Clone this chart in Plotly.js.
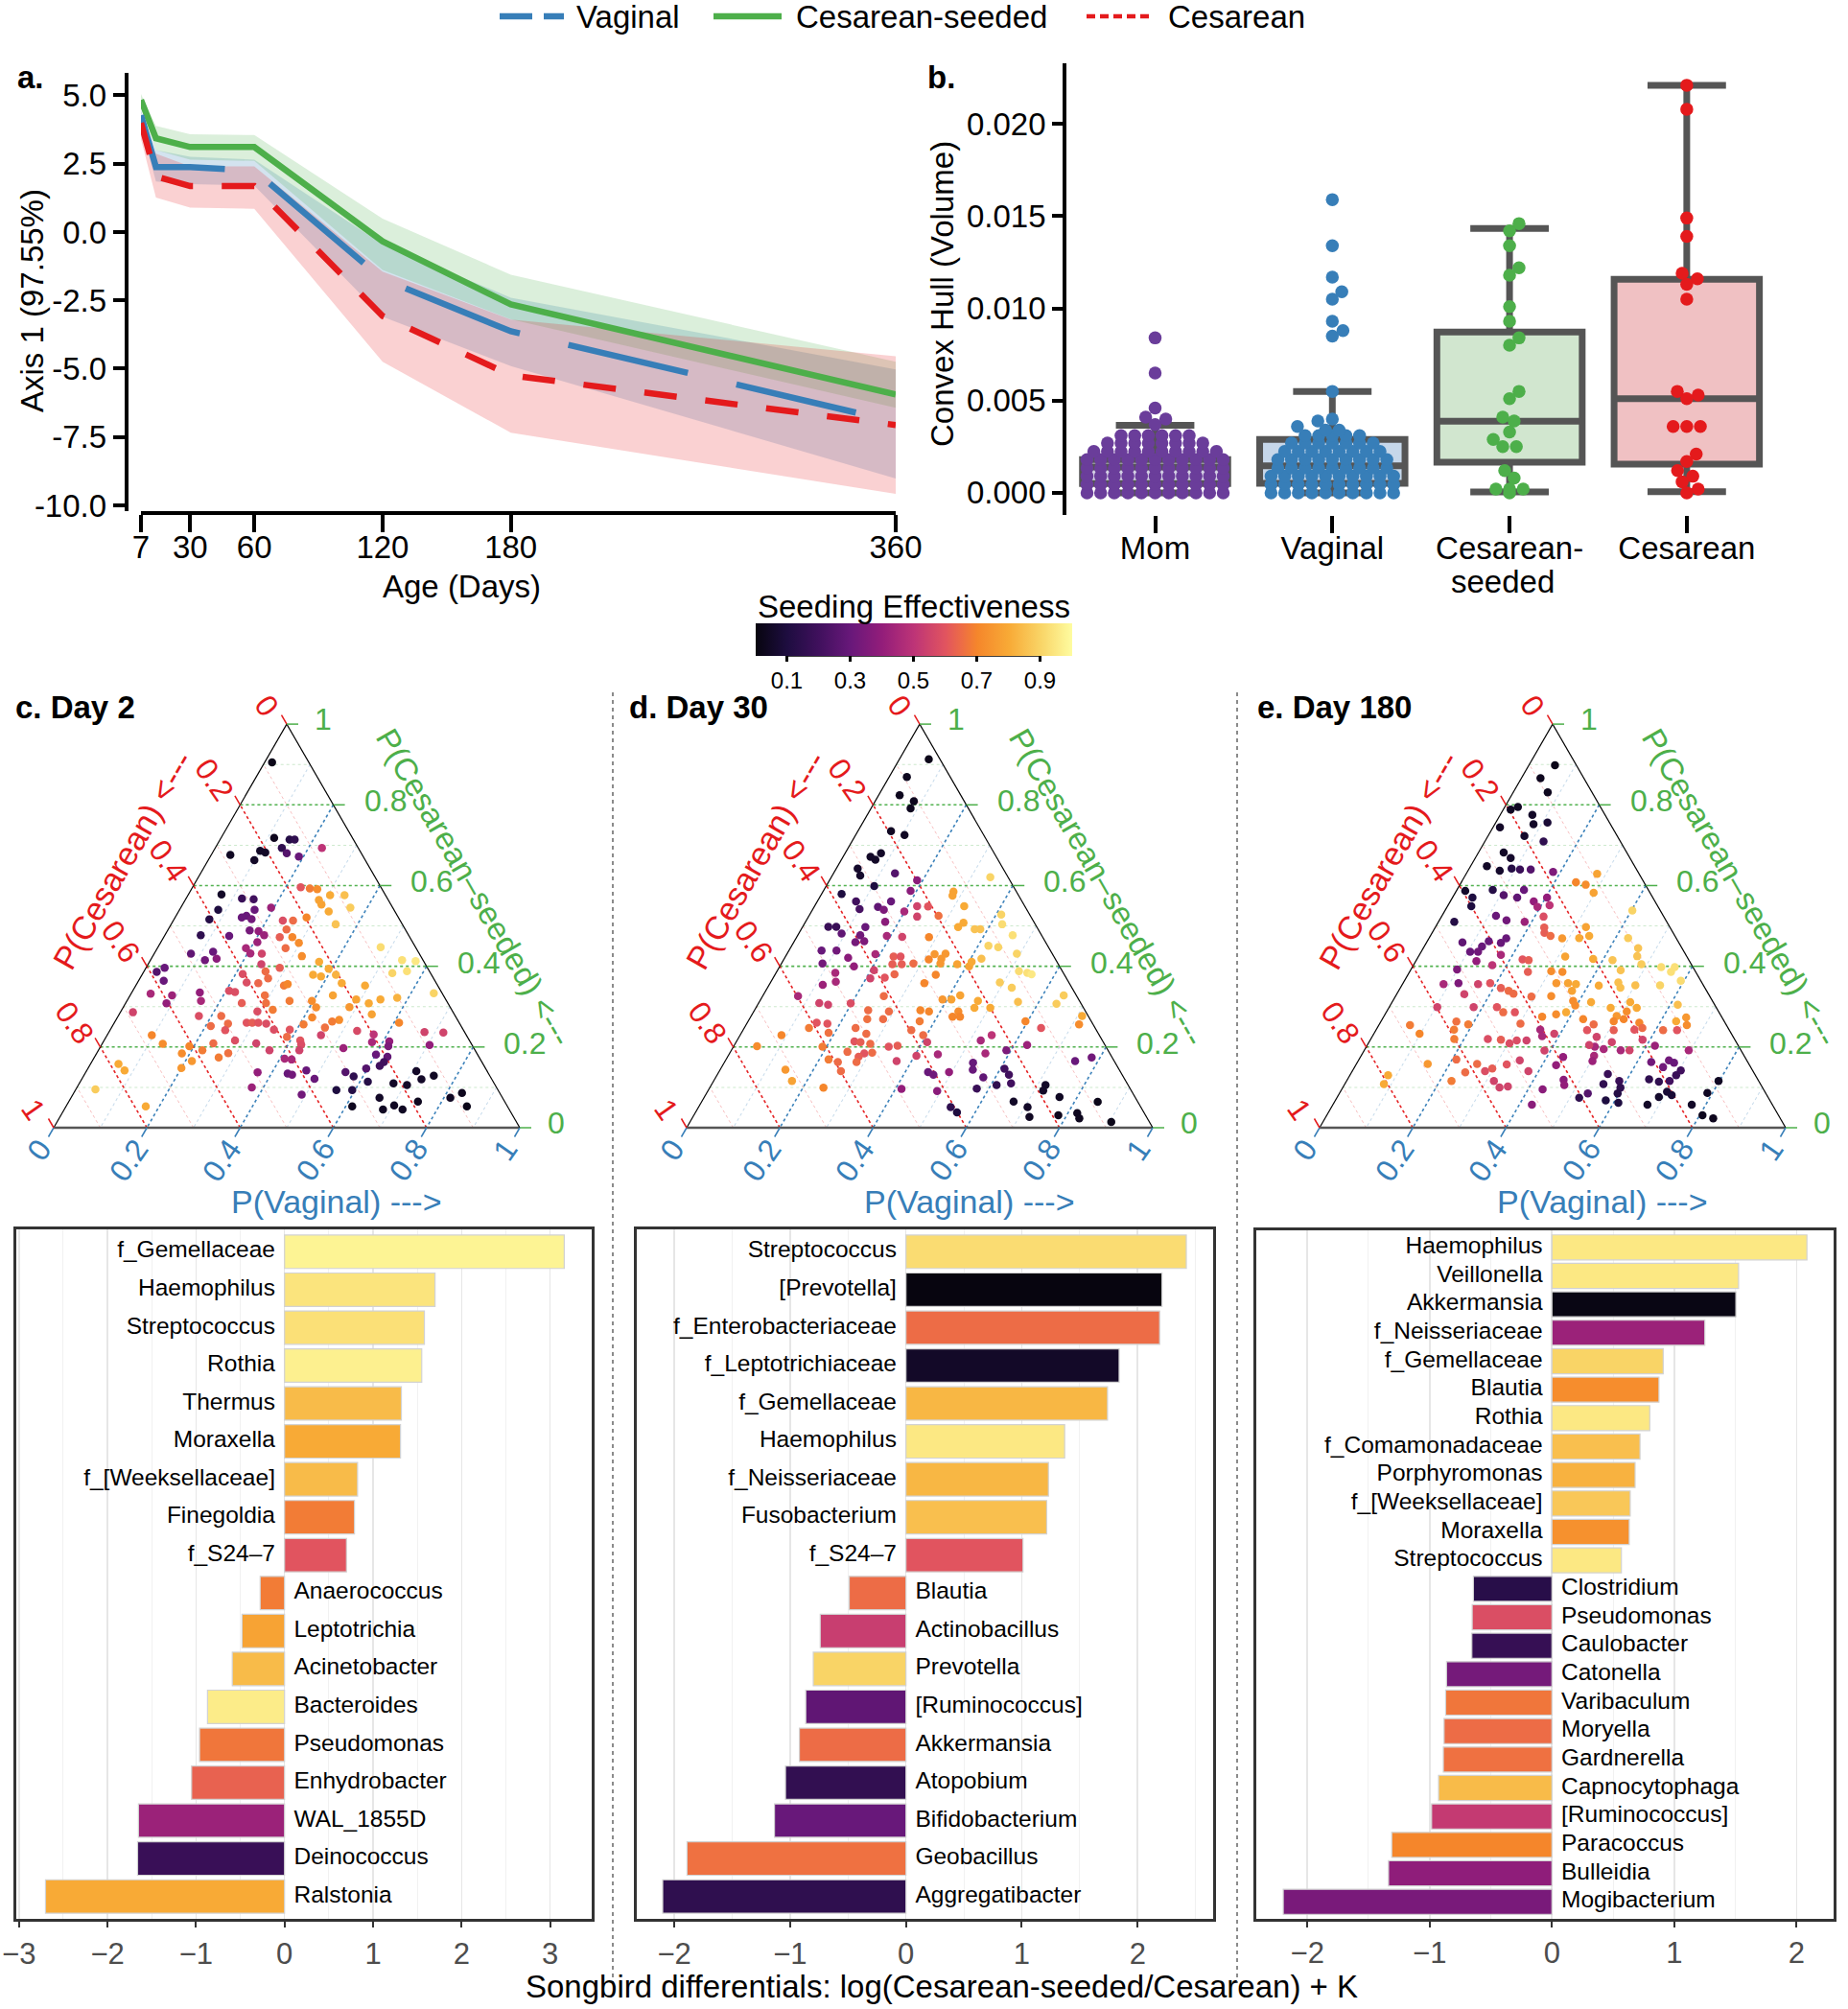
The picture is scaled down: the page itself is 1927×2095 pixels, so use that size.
<!DOCTYPE html>
<html><head><meta charset="utf-8">
<script src="https://cdn.plot.ly/plotly-3.0.1.min.js"></script>
<style>html,body{margin:0;padding:0;background:#fff;}#chart{width:1927px;height:2095px;}</style>
</head><body><div id="chart"></div>
<script>
// ---------------- DATA ----------------
// Panel a: PCoA axis 1 trajectories
const ageDays = [7, 14, 30, 60, 120, 180, 360];
const ageTickDays = [7, 30, 60, 120, 180, 360];
const axisTickVals = [5, 2.5, 0, -2.5, -5, -7.5, -10];
const axisTickText = ['5.0', '2.5', '0.0', '-2.5', '-5.0', '-7.5', '-10.0'];
const vaginalMean  = [4.27, 2.38, 2.38, 2.25, -1.72, -3.63, -6.95];
const vaginalUpper = [4.45, 3.00, 2.75, 2.65, -0.45, -2.40, -5.03];
const vaginalLower = [3.90, 1.85, 1.75, 1.70, -3.10, -4.90, -9.02];
const seededMean   = [4.83, 3.43, 3.11, 3.11, -0.34, -2.65, -5.94];
const seededUpper  = [5.05, 3.88, 3.58, 3.55, 0.49, -1.56, -4.75];
const seededLower  = [4.60, 3.00, 2.65, 2.60, -1.39, -3.19, -6.43];
const cesareanMean  = [3.99, 2.03, 1.68, 1.68, -3.07, -5.24, -7.06];
const cesareanUpper = [4.05, 2.87, 2.40, 2.40, -1.45, -3.20, -4.54];
const cesareanLower = [3.40, 1.26, 0.89, 0.85, -4.75, -7.34, -9.58];
const legendNames = ['Vaginal', 'Cesarean-seeded', 'Cesarean'];

// Panel b: convex hull volumes
const hullGroups = ['Mom', 'Vaginal', 'Cesarean-seeded', 'Cesarean'];
const hullTickText = ['Mom', 'Vaginal', 'Cesarean-', 'Cesarean'];
const hullTickVals = [0, 0.005, 0.010, 0.015, 0.020];
const momHull = [
  0.0000,0.0000,0.0000,0.0000,0.0000,0.0000,0.0000,0.0000,0.0000,0.0000,0.0000,
  0.00045,0.00045,0.00045,0.00045,0.00045,0.00045,0.00045,0.00045,0.00045,0.00045,0.00045,
  0.0009,0.0009,0.0009,0.0009,0.0009,0.0009,0.0009,0.0009,0.0009,0.0009,0.0009,
  0.00135,0.00135,0.00135,0.00135,0.00135,0.00135,0.00135,0.00135,0.00135,0.00135,0.00135,
  0.0018,0.0018,0.0018,0.0018,0.0018,0.0018,0.0018,0.0018,0.0018,0.0018,0.0018,
  0.00225,0.00225,0.00225,0.00225,0.00225,0.00225,0.00225,0.00225,0.00225,0.00225,
  0.0027,0.0027,0.0027,0.0027,0.0027,0.0027,0.0027,0.0027,
  0.0031,0.0031,0.0031,0.0031,0.0031,0.0031,
  0.0037,0.0040,0.0041,0.0046,0.0065,0.0084];
const vaginalHull = [
  0.0000,0.0000,0.0000,0.0000,0.0000,0.0000,0.0000,0.0000,0.0000,0.0000,
  0.00045,0.00045,0.00045,0.00045,0.00045,0.00045,0.00045,0.00045,0.00045,0.00045,
  0.0009,0.0009,0.0009,0.0009,0.0009,0.0009,0.0009,0.0009,0.0009,0.0009,
  0.00135,0.00135,0.00135,0.00135,0.00135,0.00135,0.00135,0.00135,0.00135,
  0.0018,0.0018,0.0018,0.0018,0.0018,0.0018,0.0018,0.0018,0.0018,
  0.00225,0.00225,0.00225,0.00225,0.00225,0.00225,0.00225,0.00225,
  0.0027,0.0027,0.0027,0.0027,0.0027,0.0027,0.0027,
  0.0031,0.0031,0.0031,0.0031,0.0031,
  0.0034,0.0034,0.0036,0.0039,0.0040,0.0055,
  0.0085,0.0088,0.0093,0.0105,0.0109,0.0117,0.0134,0.0159];
const seededHull = [0.0146,0.0142,0.0134,0.0122,0.0118,0.0101,0.0093,0.0084,0.0080,0.0055,0.0051,0.0041,
  0.0039,0.0033,0.0029,0.0025,0.0025,0.0012,0.0008,0.0002,0.0002,0.0002,0.0000];
const cesareanHull = [0.0221,0.0208,0.0149,0.0139,0.0119,0.0116,0.0113,0.0105,0.0055,0.0053,0.0051,
  0.0036,0.0036,0.0036,0.0021,0.0017,0.0012,0.0009,0.0006,0.0002,0.0000];
const hullQ1 = [0.0005, 0.00052, 0.00166, 0.00156];
const hullMedian = [0.0014, 0.00146, 0.00388, 0.0051];
const hullQ3 = [0.0018, 0.0029, 0.00872, 0.01158];
const hullLowerFence = [0.0, 0.0, 0.00005, 0.00006];
const hullUpperFence = [0.00366, 0.0055, 0.01434, 0.0221];

// Colour bar
const effectTicks = [0.1, 0.3, 0.5, 0.7, 0.9];
const ternTickVals = [0, 0.2, 0.4, 0.6, 0.8, 1];
const ternTickText = ['0', '0.2', '0.4', '0.6', '0.8', '1'];

// Panel c: Day 2 ternary  (P(Cesarean-seeded), P(Vaginal), seeding effectiveness)
const day2Seeded = [.905,.718,.714,.714,.693,.676,.686,.682,.693,.680,
 .663,.672,.596,.593,.591,.576,.576,.545,.564,.553,
 .536,.504,.578,.568,.566,.540,.540,.545,.525,.521,
 .517,.516,.513,.513,.521,.489,.487,.477,.491,.472,
 .472,.458,.477,.475,.460,.445,.445,.432,.431,.425,
 .431,.436,.415,.419,.396,.387,.411,.394,.379,.379,
 .375,.358,.352,.447,.415,.413,.388,.383,.333,.322,
 .318,.308,.318,.328,.299,.281,.314,.298,.273,.256,
 .267,.263,.248,.260,.240,.243,.225,.216,.206,.237,
 .236,.231,.212,.214,.202,.205,.197,.181,.176,.163,
 .153,.147,.138,.127,.114,.140,.120,.129,.110,.106,
 .093,.093,.074,.053,.045,.055,.045,.065,.074,.086,
 .053,.082,.100,.137,.134,.131,.142,.121,.171,.169,
 .192,.192,.209,.260,.260,.260,.258,.243,.258,.242,
 .252,.277,.277,.216,.209,.192,.202,.184,.165,.148,
 .185,.174,.229,.208,.158,.142,.095,.053,.286,.332,
 .308,.328,.386,.364,.396,.335,.314,.339,.336,.309,
 .288,.309,.328,.292,.352,.356,.314,.358,.370,.360,
 .381,.405,.229];
const day2Vaginal = [.016,.114,.149,.160,.229,.041,.100,.113,.143,.160,
 .099,.190,.232,.253,.270,.305,.336,.364,.287,.298,
 .322,.353,.071,.120,.146,.083,.161,.194,.151,.143,
 .166,.076,.235,.257,.282,.176,.196,.213,.254,.249,
 .276,.297,.077,.139,.207,.190,.275,.206,.231,.320,
 .079,.124,.117,.140,.287,.261,.364,.393,.416,.367,
 .386,.439,.492,.478,.540,.570,.564,.535,.649,.576,
 .542,.522,.490,.435,.485,.542,.397,.414,.418,.408,
 .479,.466,.458,.611,.531,.385,.388,.421,.428,.677,
 .718,.571,.577,.613,.617,.704,.523,.601,.628,.627,
 .623,.597,.557,.580,.617,.708,.729,.751,.674,.705,
 .560,.594,.662,.614,.684,.703,.726,.749,.814,.833,
 .860,.491,.375,.369,.435,.446,.471,.499,.410,.426,
 .367,.431,.330,.284,.296,.309,.327,.351,.245,.247,
 .211,.173,.221,.281,.238,.223,.190,.183,.214,.200,
 .282,.267,.096,.130,.060,.081,.042,.171,.027,.042,
 .088,.090,.028,.054,.040,.146,.159,.207,.221,.249,
 .293,.301,.289,.324,.318,.324,.349,.260,.275,.234,
 .215,.243,.459];
const day2Effect = [.02,.03,.12,.15,.50,.04,.05,.05,.15,.25,
 .05,.30,.60,.68,.72,.80,.85,.88,.78,.78,
 .80,.86,.05,.18,.20,.10,.30,.42,.30,.30,
 .32,.12,.58,.65,.70,.33,.40,.42,.65,.62,
 .70,.72,.15,.30,.42,.45,.65,.45,.55,.72,
 .28,.30,.32,.38,.62,.65,.80,.80,.82,.80,
 .80,.80,.80,.92,.93,.95,.93,.90,.90,.82,
 .80,.80,.78,.78,.75,.78,.72,.72,.70,.68,
 .72,.68,.66,.70,.57,.60,.65,.60,.58,.55,
 .55,.50,.45,.40,.35,.40,.42,.30,.28,.20,
 .20,.25,.25,.15,.12,.05,.05,.04,.05,.05,
 .10,.12,.05,.03,.04,.04,.04,.03,.04,.03,
 .02,.32,.42,.40,.30,.32,.30,.30,.45,.45,
 .55,.55,.55,.60,.62,.60,.58,.58,.65,.60,
 .65,.58,.65,.58,.65,.68,.70,.72,.75,.75,
 .66,.68,.70,.72,.80,.80,.88,.80,.55,.45,
 .40,.42,.25,.30,.30,.40,.45,.58,.58,.62,
 .58,.66,.66,.68,.68,.70,.68,.64,.65,.58,
 .58,.55,.55];

// Panel d: Day 30 ternary
const day30Seeded = [.913,.869,.824,.809,.791,.735,.725,.671,.680,.664,
 .642,.625,.630,.613,.599,.587,.579,.561,.542,.561,
 .547,.540,.549,.548,.536,.523,.525,.510,.498,.498,
 .481,.497,.477,.460,.462,.475,.473,.472,.439,.439,
 .421,.407,.400,.430,.424,.424,.405,.405,.407,.390,
 .370,.372,.380,.384,.362,.354,.326,.309,.305,.308,
 .326,.358,.379,.417,.430,.419,.431,.407,.405,.400,
 .411,.419,.492,.492,.497,.508,.549,.585,.575,.621,
 .528,.504,.477,.451,.447,.431,.388,.384,.380,.360,
 .347,.312,.328,.307,.277,.256,.264,.247,.297,.297,
 .314,.318,.328,.318,.288,.275,.275,.288,.291,.264,
 .242,.229,.212,.288,.269,.291,.269,.233,.247,.214,
 .212,.208,.186,.184,.176,.163,.188,.163,.140,.169,
 .201,.235,.247,.260,.258,.229,.202,.144,.116,.099,
 .096,.091,.201,.203,.165,.178,.182,.138,.138,.131,
 .051,.038,.161,.144,.125,.216,.229,.184,.192,.205,
 .146,.131,.110,.106,.097,.165,.174,.106,.092,.076,
 .065,.051,.027,.031,.036,.023,.064,.014];
const day30Vaginal = [.063,.038,.045,.083,.085,.071,.105,.059,.077,.073,
 .046,.060,.132,.188,.103,.187,.043,.083,.100,.158,
 .137,.153,.220,.244,.199,.233,.278,.171,.055,.072,
 .092,.135,.134,.132,.150,.192,.226,.284,.070,.102,
 .136,.088,.159,.190,.232,.247,.239,.259,.283,.207,
 .209,.239,.256,.127,.139,.115,.076,.130,.151,.198,
 .260,.331,.345,.311,.317,.337,.340,.341,.378,.406,
 .406,.423,.372,.384,.334,.340,.321,.280,.283,.341,
 .411,.425,.461,.422,.445,.493,.519,.539,.550,.492,
 .524,.555,.645,.640,.710,.714,.595,.637,.503,.469,
 .468,.409,.423,.390,.439,.433,.449,.376,.356,.368,
 .361,.393,.410,.290,.287,.244,.253,.269,.239,.253,
 .267,.290,.305,.289,.281,.283,.251,.243,.261,.220,
 .191,.187,.139,.149,.173,.089,.050,.140,.168,.244,
 .413,.492,.333,.351,.368,.404,.448,.494,.449,.464,
 .541,.561,.534,.542,.574,.523,.540,.549,.590,.628,
 .609,.626,.641,.612,.574,.751,.782,.717,.719,.762,
 .669,.706,.722,.782,.820,.831,.850,.904];
const day30Effect = [.02,.03,.03,.03,.03,.04,.04,.05,.05,.05,
 .06,.06,.25,.38,.10,.38,.10,.20,.22,.30,
 .28,.35,.55,.60,.45,.55,.66,.38,.18,.18,
 .28,.30,.32,.33,.35,.45,.55,.70,.30,.32,
 .38,.32,.40,.45,.62,.60,.62,.62,.65,.55,
 .55,.60,.64,.45,.45,.42,.45,.55,.55,.58,
 .65,.70,.70,.70,.75,.75,.75,.75,.78,.78,
 .80,.85,.86,.86,.80,.80,.80,.78,.78,.90,
 .90,.92,.93,.90,.90,.90,.92,.93,.95,.88,
 .88,.85,.88,.88,.80,.72,.70,.60,.80,.80,
 .80,.78,.78,.75,.72,.70,.70,.70,.70,.68,
 .65,.65,.55,.65,.65,.65,.66,.65,.65,.60,
 .62,.65,.65,.60,.62,.65,.65,.65,.65,.68,
 .68,.66,.68,.60,.60,.70,.72,.75,.78,.70,
 .40,.38,.60,.62,.55,.55,.45,.40,.30,.32,
 .15,.10,.30,.30,.28,.45,.50,.45,.35,.42,
 .20,.20,.20,.15,.18,.30,.32,.05,.05,.04,
 .05,.05,.04,.03,.03,.03,.02,.02];

// Panel e: Day 180 ternary
const day180Seeded = [.898,.866,.831,.788,.795,.775,.756,.752,.744,.723,
 .709,.682,.668,.648,.637,.642,.640,.640,.634,.587,
 .570,.549,.589,.576,.570,.589,.561,.547,.570,.551,
 .510,.525,.514,.510,.523,.496,.483,.475,.469,.608,
 .602,.629,.582,.538,.497,.475,.470,.470,.445,.425,
 .405,.415,.390,.398,.398,.386,.364,.353,.305,.353,
 .360,.347,.352,.418,.424,.388,.386,.358,.358,.356,
 .339,.326,.314,.303,.311,.297,.277,.311,.297,.288,
 .269,.264,.260,.243,.247,.264,.273,.254,.242,.242,
 .192,.203,.218,.192,.192,.212,.242,.195,.201,.225,
 .205,.242,.269,.256,.178,.165,.163,.167,.150,.161,
 .142,.130,.120,.114,.116,.089,.081,.076,.057,.057,
 .031,.023,.086,.116,.133,.108,.116,.099,.085,.062,
 .068,.085,.074,.175,.155,.119,.106,.095,.057,.140,
 .167,.102,.100,.116,.157,.147,.140,.158,.137,.169,
 .116,.158,.130,.108,.254,.233,.220,.243,.263,.256,
 .220,.218,.209,.216,.216,.243,.227,.233,.191,.286,
 .258,.299,.286,.299,.299,.356,.331,.356,.358,.392,
 .413,.403,.428,.436,.436,.449,.462,.458,.459,.469,
 .358,.346,.339,.332,.417,.415,.386,.325,.286,.281,
 .275];
const day180Vaginal = [.056,.041,.074,.016,.028,.069,.111,.083,.015,.078,
 .126,.054,.076,.035,.068,.091,.110,.133,.184,.019,
 .043,.051,.077,.107,.139,.144,.179,.194,.203,.218,
 .034,.116,.144,.185,.219,.234,.241,.258,.286,.246,
 .270,.281,.297,.402,.323,.341,.322,.427,.461,.469,
 .488,.421,.451,.534,.563,.561,.593,.554,.616,.501,
 .461,.472,.423,.378,.315,.303,.328,.329,.354,.372,
 .372,.334,.387,.397,.427,.476,.499,.511,.532,.515,
 .518,.499,.556,.554,.569,.633,.650,.661,.616,.646,
 .696,.618,.584,.569,.550,.521,.510,.512,.490,.482,
 .476,.453,.431,.460,.500,.503,.630,.666,.662,.680,
 .704,.700,.647,.671,.693,.701,.715,.690,.675,.770,
 .806,.833,.789,.798,.552,.555,.585,.596,.597,.610,
 .580,.533,.520,.435,.430,.464,.472,.431,.427,.378,
 .346,.353,.336,.316,.323,.297,.285,.259,.244,.209,
 .225,.153,.082,.084,.067,.098,.179,.167,.162,.191,
 .251,.280,.303,.315,.336,.352,.364,.387,.387,.276,
 .302,.231,.251,.181,.103,.162,.145,.088,.119,.099,
 .130,.169,.175,.122,.105,.124,.132,.160,.077,.166,
 .187,.216,.236,.250,.227,.241,.254,.292,.386,.367,
 .340];
const day180Effect = [.02,.03,.03,.04,.04,.05,.08,.05,.05,.06,
 .15,.05,.06,.05,.06,.12,.18,.25,.35,.06,
 .10,.10,.12,.25,.28,.30,.40,.45,.40,.50,
 .12,.30,.32,.42,.58,.62,.62,.65,.75,.70,
 .72,.78,.78,.90,.78,.80,.80,.88,.86,.86,
 .88,.86,.86,.92,.93,.93,.92,.90,.85,.85,
 .85,.85,.80,.80,.78,.72,.72,.75,.78,.80,
 .78,.72,.72,.72,.80,.80,.75,.80,.80,.72,
 .70,.70,.70,.60,.65,.80,.75,.72,.65,.60,
 .45,.42,.55,.55,.45,.55,.62,.45,.45,.55,
 .55,.60,.70,.65,.45,.42,.32,.32,.32,.30,
 .20,.18,.15,.15,.20,.08,.08,.06,.05,.05,
 .03,.03,.04,.04,.18,.15,.18,.15,.12,.10,
 .10,.25,.15,.40,.40,.38,.40,.38,.38,.55,
 .55,.55,.55,.55,.60,.62,.58,.65,.65,.65,
 .68,.75,.80,.80,.68,.70,.68,.68,.66,.68,
 .58,.62,.58,.58,.55,.45,.45,.55,.55,.60,
 .65,.60,.65,.55,.55,.55,.55,.45,.35,.35,
 .40,.50,.45,.32,.30,.30,.30,.30,.28,.30,
 .60,.62,.65,.65,.60,.62,.62,.65,.80,.72,
 .70];

// Songbird differential bars
const day2Taxa = ['f_Gemellaceae','Haemophilus','Streptococcus','Rothia','Thermus','Moraxella','f_[Weeksellaceae]','Finegoldia','f_S24\u20137','Anaerococcus','Leptotrichia','Acinetobacter','Bacteroides','Pseudomonas','Enhydrobacter','WAL_1855D','Deinococcus','Ralstonia'];
const day2Diff = [3.16,1.70,1.58,1.55,1.32,1.31,0.825,0.79,0.70,-0.275,-0.48,-0.59,-0.87,-0.96,-1.05,-1.65,-1.66,-2.70];
const day2BarEffect = [0.98,0.94,0.93,0.97,0.84,0.80,0.84,0.68,0.60,0.68,0.78,0.84,0.96,0.67,0.63,0.42,0.18,0.80];
const day30Taxa = ['Streptococcus','[Prevotella]','f_Enterobacteriaceae','f_Leptotrichiaceae','f_Gemellaceae','Haemophilus','f_Neisseriaceae','Fusobacterium','f_S24\u20137','Blautia','Actinobacillus','Prevotella','[Ruminococcus]','Akkermansia','Atopobium','Bifidobacterium','Geobacillus','Aggregatibacter'];
const day30Diff = [2.42,2.21,2.19,1.84,1.74,1.37,1.23,1.215,1.01,-0.49,-0.74,-0.80,-0.865,-0.92,-1.04,-1.135,-1.89,-2.10];
const day30BarEffect = [0.92,0.0,0.65,0.05,0.83,0.95,0.83,0.85,0.60,0.65,0.53,0.90,0.28,0.65,0.16,0.30,0.66,0.15];
const day180Taxa = ['Haemophilus','Veillonella','Akkermansia','f_Neisseriaceae','f_Gemellaceae','Blautia','Rothia','f_Comamonadaceae','Porphyromonas','f_[Weeksellaceae]','Moraxella','Streptococcus','Clostridium','Pseudomonas','Caulobacter','Catonella','Varibaculum','Moryella','Gardnerella','Capnocytophaga','[Ruminococcus]','Paracoccus','Bulleidia','Mogibacterium'];
const day180Diff = [2.085,1.526,1.504,1.25,0.91,0.875,0.80,0.72,0.68,0.64,0.632,0.568,-0.642,-0.652,-0.655,-0.862,-0.869,-0.882,-0.888,-0.927,-0.984,-1.31,-1.336,-2.197];
const day180BarEffect = [0.95,0.95,0.01,0.42,0.90,0.72,0.95,0.85,0.82,0.87,0.73,0.95,0.13,0.58,0.17,0.33,0.67,0.65,0.66,0.84,0.52,0.70,0.39,0.34];

// ---------------- STYLE / GEOMETRY ----------------
const W = 1927, H = 2095;
const FONT = 'Liberation Sans, Arial, Helvetica, sans-serif';
const px = v => v / W, py = v => 1 - v / H;
const RED = '#e41a1c', BLUE = '#377eb8', GREEN = '#4daf4a', PURPLE = '#6a3d9a';
const rgba = (hex, a) => { const n = parseInt(hex.slice(1), 16); return `rgba(${n>>16},${(n>>8)&255},${n&255},${a})`; };
const effectScale = [[0,'#07050f'],[0.1,'#1e0d40'],[0.2,'#40105d'],[0.3,'#68187a'],[0.4,'#931d7a'],[0.5,'#bd3477'],
  [0.6,'#e1545f'],[0.65,'#ed6c46'],[0.7,'#f5862b'],[0.8,'#f8aa36'],[0.9,'#f9d466'],[1,'#fefca0']];

const traces = [];
const shapes = [];
const annotations = [];
const txt = (x, y, text, opts) => annotations.push(Object.assign({xref:'paper', yref:'paper', x:px(x), y:py(y), text, showarrow:false, xanchor:'center', yanchor:'middle', font:{size:33, family:FONT, color:'#000'}}, opts || {}));
const hline = (x0, y0, x1, y1, line) => shapes.push({type:'line', xref:'paper', yref:'paper', x0:px(x0), y0:py(y0), x1:px(x1), y1:py(y1), line});

// ---------- Panel a ----------
function band(upper, lower, fill) {
  traces.push({type:'scatter', x: ageDays, y: upper, mode:'lines', line:{width:0, color:fill}, showlegend:false, hoverinfo:'skip', xaxis:'x', yaxis:'y'});
  traces.push({type:'scatter', x: ageDays, y: lower, mode:'lines', line:{width:0, color:fill}, fill:'tonexty', fillcolor:fill, showlegend:false, hoverinfo:'skip', xaxis:'x', yaxis:'y'});
}
band(vaginalUpper, vaginalLower, rgba(BLUE, 0.22));
band(seededUpper, seededLower, rgba(GREEN, 0.2));
band(cesareanUpper, cesareanLower, rgba(RED, 0.2));
traces.push({type:'scatter', name:legendNames[1], x: ageDays, y: seededMean, mode:'lines', line:{color:GREEN, width:6.5}, showlegend:false, xaxis:'x', yaxis:'y'});
traces.push({type:'scatter', name:legendNames[0], x: ageDays, y: vaginalMean, mode:'lines', line:{color:BLUE, width:6.5, dash:'128px,52px'}, showlegend:false, xaxis:'x', yaxis:'y'});
traces.push({type:'scatter', name:legendNames[2], x: ageDays, y: cesareanMean, mode:'lines', line:{color:RED, width:6.5, dash:'34px,30px'}, showlegend:false, xaxis:'x', yaxis:'y'});
// legend (keys + labels across the top)
hline(521, 17, 588, 17, {color:BLUE, width:6.5, dash:'34px,12px'});
hline(744, 17, 815, 17, {color:GREEN, width:6.5});
hline(1133, 17, 1203, 17, {color:RED, width:4.5, dash:'9px,5px'});
txt(599, 17, legendNames[0], {xanchor:'left'});
txt(828, 17, legendNames[1], {xanchor:'left'});
txt(1216, 17, legendNames[2], {xanchor:'left'});

// ---------- Panel b ----------
const B_TOP = 66, B_BOT = 537, B_YMIN = -0.0012, B_YMAX = 0.02329;
const B_XL = 1112.1, B_XR = 1860.5, B_CMIN = -0.5, B_CMAX = 3.55;
const yPxPerUnit = (B_BOT - B_TOP) / (B_YMAX - B_YMIN);
const xPxPerCat = (B_XR - B_XL) / (B_CMAX - B_CMIN);
// beeswarm: tied values are laid side by side in a centred row, isolated values dodge earlier dots
function beeswarm(vals, sx, d) {
  const off = new Array(vals.length).fill(0);
  const groups = new Map();
  vals.forEach((v, i) => { if (!groups.has(v)) groups.set(v, []); groups.get(v).push(i); });
  const keys = [...groups.keys()].sort((a, b) => a - b);
  const placed = [];
  keys.forEach(v => {
    const ids = groups.get(v), y = v * yPxPerUnit;
    if (ids.length > 1) {
      ids.forEach((i, k) => { off[i] = (k - (ids.length - 1) / 2) * sx; placed.push({x: off[i], y}); });
    } else {
      const near = placed.filter(q => Math.abs(q.y - y) < d);
      const cands = [0];
      near.forEach(q => { const dx = Math.sqrt(d*d - (q.y-y)*(q.y-y)); cands.push(q.x + dx, q.x - dx); });
      cands.sort((a, b) => Math.abs(a) - Math.abs(b));
      let x = 0;
      for (const c of cands) { if (near.every(q => (q.x-c)*(q.x-c) + (q.y-y)*(q.y-y) >= d*d - 0.01)) { x = c; break; } }
      off[ids[0]] = x; placed.push({x, y});
    }
  });
  return off;
}
const hullData = [momHull, vaginalHull, seededHull, cesareanHull];
const hullColors = [PURPLE, BLUE, GREEN, RED];
const hullFills = ['#d3d0e4', '#c6d7ea', '#d1e6cf', '#f0c1c3'];
hullData.forEach((vals, g) => {
  traces.push({type:'box', name:hullGroups[g], x:[g], q1:[hullQ1[g]], median:[hullMedian[g]], q3:[hullQ3[g]],
    lowerfence:[hullLowerFence[g]], upperfence:[hullUpperFence[g]], boxpoints:false,
    width:0.82, whiskerwidth:0.54, fillcolor:hullFills[g], line:{color:'#555555', width:7},
    showlegend:false, hoverinfo:'skip', xaxis:'x2', yaxis:'y2'});
});
hullData.forEach((vals, g) => {
  const off = beeswarm(vals, 14.2, 12.5);
  traces.push({type:'scatter', name:hullGroups[g], mode:'markers', x: off.map(o => g + o / xPxPerCat), y: vals,
    marker:{color:hullColors[g], size:13.5}, showlegend:false, hoverinfo:'skip', xaxis:'x2', yaxis:'y2'});
});
txt(1567, 606, 'seeded');

// ---------- Ternary panels ----------
const TRI_SIDE = 486, TRI_BASE = 1176, TRI_H = TRI_SIDE * Math.sqrt(3) / 2;
const ternPanels = [
  {S: day2Seeded, V: day2Vaginal, E: day2Effect, L: 56, title: 'c. Day 2', tx: 14},
  {S: day30Seeded, V: day30Vaginal, E: day30Effect, L: 716, title: 'd. Day 30', tx: 654},
  {S: day180Seeded, V: day180Vaginal, E: day180Effect, L: 1376, title: 'e. Day 180', tx: 1309}
];
function ternAxis(col, major, isBottom) {
  return {min:0, tick0:0, dtick: major ? 0.2 : 0.1, showgrid:true, griddash:'dot',
    gridcolor: major ? rgba(col, 0.95) : rgba(col, 0.28), gridwidth: major ? 1.6 : 1,
    showticklabels:false, ticks:'', showline: major, linecolor: isBottom ? '#555555' : '#000000',
    linewidth: isBottom ? 2.5 : 1.2, layer:'below traces', title:{text:''}};
}
function ternLayout(L, major) {
  return {domain:{x:[px(L), px(L + TRI_SIDE)], y:[py(TRI_BASE), py(TRI_BASE - TRI_H)]},
    sum:1, bgcolor:'rgba(0,0,0,0)',
    aaxis: ternAxis(GREEN, major, false), baxis: ternAxis(RED, major, true), caxis: ternAxis(BLUE, major, false)};
}
const ternLayouts = {};
ternPanels.forEach((p, k) => {
  const minorId = k === 0 ? 'ternary' : 'ternary' + (k + 1);
  const majorId = 'ternary' + (k + 4);
  ternLayouts[minorId] = ternLayout(p.L, false);
  ternLayouts[majorId] = ternLayout(p.L, true);
  traces.push({type:'scatterternary', subplot: minorId, a: p.S, c: p.V, sum:1, mode:'markers',
    marker:{size:8.5, opacity:0, color:'#000'}, showlegend:false, hoverinfo:'skip'});
  traces.push({type:'scatterternary', subplot: majorId, a: p.S, c: p.V, sum:1, mode:'markers',
    marker:{size:8.5, color: p.E, coloraxis:'coloraxis'}, showlegend:false, hoverinfo:'skip', cliponaxis:false});

  const L = p.L;
  const ann = (x, y, text, col, angle, size) => txt(x, y, text, {textangle:angle, font:{color:col, size:size || 32, family:FONT}});
  ternTickVals.forEach((t, i) => {
    const single = ternTickText[i].length === 1;
    // P(Cesarean) on the left edge
    let X = L + (1 - t) * TRI_SIDE / 2, Y = TRI_BASE - (1 - t) * TRI_H;
    hline(X, Y, X - 5.5, Y - 9.5, {color:RED, width:1.5});
    ann(X + (single ? -21 : -27), Y + (single ? -19 : -26), ternTickText[i], RED, 55);
    // P(Vaginal) on the bottom edge
    X = L + t * TRI_SIDE; Y = TRI_BASE;
    hline(X, Y, X - 5.5, Y + 9.5, {color:BLUE, width:1.5});
    ann(X + (single ? -15 : -19), Y + (single ? 23 : 34), ternTickText[i], BLUE, -55);
    // P(Cesarean-seeded) on the right edge
    X = L + TRI_SIDE - t * TRI_SIDE / 2; Y = TRI_BASE - t * TRI_H;
    hline(X, Y, X + 12, Y, {color:GREEN, width:1.5});
    ann(X + (single ? 38 : 54), Y + (single ? -5 : -4), ternTickText[i], GREEN, 0);
  });
  ann(L + 295, 1253, 'P(Vaginal) ---&gt;', BLUE, 0, 34);
  ann(L + 72, 897, 'P(Cesarean) &lt;---', RED, -60, 34);
  ann(L + 438, 925, 'P(Cesarean\u2013seeded) &lt;---', GREEN, 60, 33);
  txt(p.tx, 737, '<b>' + p.title + '</b>', {xanchor:'left'});
});

// ---------- Bars ----------
const barPanels = [
  {taxa: day2Taxa, diff: day2Diff, eff: day2BarEffect, xl:17, xr:617, range:[-3.03, 3.47], top:1281.6, bot:2001.4, ax:'3'},
  {taxa: day30Taxa, diff: day30Diff, eff: day30BarEffect, xl:663.6, xr:1264.8, range:[-2.327, 2.65], top:1281.6, bot:2001.4, ax:'4'},
  {taxa: day180Taxa, diff: day180Diff, eff: day180BarEffect, xl:1310.3, xr:1911.6, range:[-2.415, 2.30], top:1283, bot:2001, ax:'5'}
];
const barAxes = {};
barPanels.forEach(b => {
  traces.push({type:'bar', orientation:'h', x: b.diff, y: b.taxa,
    marker:{color: b.eff, coloraxis:'coloraxis', line:{color:'#d2d2d2', width:1.2}},
    showlegend:false, hoverinfo:'skip', xaxis:'x' + b.ax, yaxis:'y' + b.ax});
  traces.push({type:'scatter', mode:'markers+text', x: b.diff.map(() => 0), y: b.taxa, text: b.taxa,
    textposition: b.diff.map(v => v >= 0 ? 'middle left' : 'middle right'),
    marker:{size:14, opacity:0}, textfont:{size:24.5, color:'#000', family:FONT}, cliponaxis:false,
    showlegend:false, hoverinfo:'skip', xaxis:'x' + b.ax, yaxis:'y' + b.ax});
  barAxes['xaxis' + b.ax] = {domain:[px(b.xl), px(b.xr)], range:b.range, anchor:'y' + b.ax,
    showline:true, mirror:true, linecolor:'#333333', linewidth:3, ticks:'outside', ticklen:6, tickwidth:2, tickcolor:'#333333',
    dtick:1, tick0:0, tickfont:{size:31, color:'#4d4d4d'}, showgrid:true, gridcolor:'#e6e6e6', gridwidth:1.6,
    minor:{dtick:0.5, tick0:0, showgrid:true, gridcolor:'#f1f1f1', gridwidth:1, ticks:''}, zeroline:false};
  barAxes['yaxis' + b.ax] = {domain:[py(b.bot), py(b.top)], type:'category', categoryorder:'array', categoryarray:b.taxa,
    range:[b.taxa.length - 1 + 0.6, -0.6], anchor:'x' + b.ax, showline:true, mirror:true, linecolor:'#333333', linewidth:3,
    showticklabels:false, ticks:'', showgrid:false, zeroline:false};
});

// separators
[639, 1290].forEach(x => hline(x, 722, x, 2068, {color:'#666666', width:1.5, dash:'4px,4px'}));

// colour bar title and axis line
txt(952.5, 632, 'Seeding Effectiveness');
hline(787.5 + 0.1 * 329.5, 683.5, 787.5 + 0.9 * 329.5, 683.5, {color:'#000', width:2.5});

// other texts
txt(16, 80, '<b>a.</b>', {xanchor:'left'});
txt(965, 80, '<b>b.</b>', {xanchor:'left'});
txt(33, 314, 'Axis 1 (97.55%)', {textangle:-90});
txt(482, 611, 'Age (Days)');
txt(982, 307, 'Convex Hull (Volume)', {textangle:-90});
txt(982, 2071, 'Songbird differentials: log(Cesarean-seeded/Cesarean) + K');

const layout = Object.assign({
  width: W, height: H, margin:{l:0, r:0, t:0, b:0},
  paper_bgcolor:'#ffffff', plot_bgcolor:'rgba(0,0,0,0)',
  font:{family:FONT, size:33, color:'#000'},
  showlegend:false,
  bargap:0.12, boxmode:'overlay',
  coloraxis:{colorscale: effectScale, cmin:0, cmax:1, showscale:true,
    colorbar:{orientation:'h', x:px(952.5), xanchor:'center', y:py(650), yanchor:'top',
      len:329.5, lenmode:'pixels', thickness:33.5, thicknessmode:'pixels', outlinewidth:0, xpad:0, ypad:0,
      tickvals: effectTicks, ticks:'outside', ticklen:6, tickwidth:2.5, tickcolor:'#000', tickfont:{size:24, family:FONT}}},
  xaxis:{domain:[px(147), px(934)], range:[7, 360], anchor:'y', showline:true, linewidth:4, linecolor:'#000',
    ticks:'outside', ticklen:18, tickwidth:4, tickcolor:'#000', tickvals: ageTickDays, tickfont:{size:33},
    ticklabelstandoff:-13, showgrid:false, zeroline:false},
  yaxis:{domain:[py(533), py(75.5)], range:[-10.21, 5.84], anchor:'free', position:px(131.7), showline:true, linewidth:4, linecolor:'#000',
    ticks:'outside', ticklen:12, tickwidth:4, tickcolor:'#000', tickvals: axisTickVals, ticktext: axisTickText, tickfont:{size:33},
    showgrid:false, zeroline:false},
  xaxis2:{domain:[px(B_XL), px(B_XR)], range:[B_CMIN, B_CMAX], anchor:'y2', showline:false,
    ticks:'outside', ticklen:18, tickwidth:4, tickcolor:'#000', tickvals:[0,1,2,3], ticktext: hullTickText, tickfont:{size:33},
    ticklabelstandoff:-13, showgrid:false, zeroline:false},
  yaxis2:{domain:[py(B_BOT), py(B_TOP)], range:[B_YMIN, B_YMAX], anchor:'x2', showline:true, linewidth:4, linecolor:'#000',
    ticks:'outside', ticklen:11, tickwidth:4, tickcolor:'#000', tickvals: hullTickVals, tickformat:'.3f', tickfont:{size:33},
    showgrid:false, zeroline:false},
  shapes, annotations
}, barAxes, ternLayouts);

Plotly.newPlot('chart', traces, layout, {displayModeBar:false, staticPlot:true});
</script></body></html>
